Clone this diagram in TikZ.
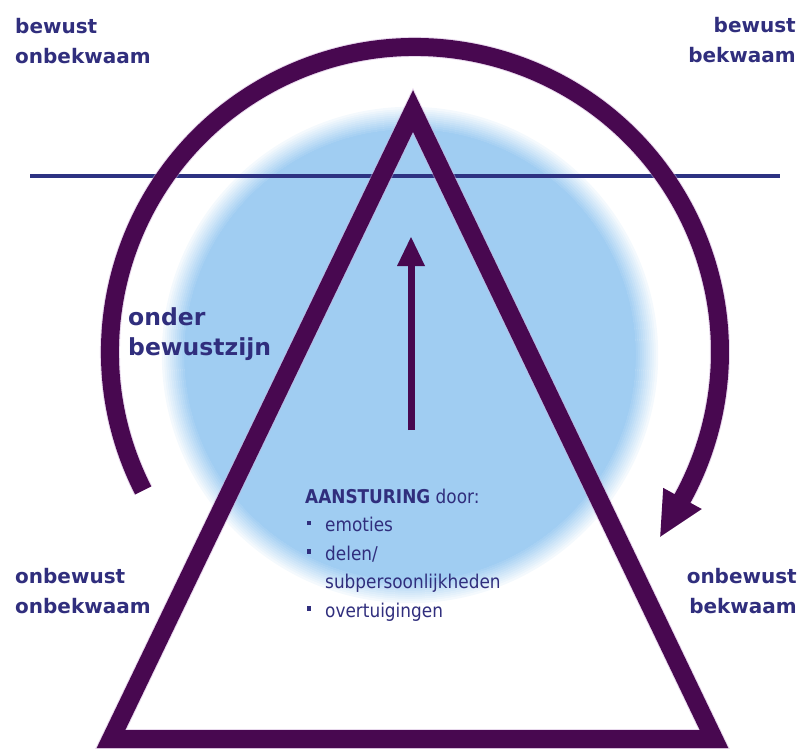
\documentclass[tikz,border=0pt]{standalone}
\usepackage{fontspec}
\usetikzlibrary{calc}
\newfontfamily\labfont{DejaVu Sans}
\newfontfamily\condfont{DejaVu Sans}[FakeStretch=0.89]
\definecolor{pur}{RGB}{72,8,80}
\definecolor{lb}{RGB}{160,205,242}
\definecolor{navy}{RGB}{45,50,130}
\definecolor{txt}{RGB}{48,46,125}
\definecolor{shad}{RGB}{205,170,215}
\newcommand\bul{\makebox[20pt][l]{\hspace{2pt}\rule[6.5pt]{4pt}{4.5pt}}}
\begin{document}
\begin{tikzpicture}[x=1pt,y=1pt,
  lab/.style={font=\labfont\bfseries\fontsize{20}{30}\selectfont, text=txt, inner sep=0pt},
  biglab/.style={font=\labfont\bfseries\fontsize{23.5}{30}\selectfont, text=txt, inner sep=0pt},
  block/.style={font=\condfont\fontsize{19}{28.5}\selectfont, text=txt, inner sep=0pt, align=left},
  thick purple/.style={draw=pur, line width=18pt},
  shadowline/.style={draw=shad, line width=20pt, opacity=0.45}]
\useasboundingbox (0,0) rectangle (803,-749);
% blue subconscious circle with soft edge
\coordinate (cc) at (410,-355);
\foreach \i in {0,...,11} {
  \pgfmathtruncatemacro\pct{100-8*\i}
  \draw[lb!\pct!white, line width=2.4pt] (cc) circle[radius=225+2*\i];
}
\fill[lb] (cc) circle[radius=225];
% horizon line
\coordinate (hl) at (30,-176);
\coordinate (hr) at (780,-176);
\draw[navy, line width=4pt] (hl) -- (hr);
% geometry
\coordinate (apex) at (413,-111);
\coordinate (bl) at (111,-739);
\coordinate (br) at (714,-739);
\coordinate (ac) at (415,-352);
% shadows
\begin{scope}[shift={(4,-3)}]
  \draw[shadowline, line join=miter] (bl) -- (apex) -- (br) -- cycle;
  \draw[shadowline] (ac) ++(207:305) arc[start angle=207, end angle=-29.5, radius=305];
\end{scope}
% triangle
\draw[thick purple, line join=miter] (bl) -- (apex) -- (br) -- cycle;
% circular arrow
\draw[thick purple] (ac) ++(207:305) arc[start angle=207, end angle=-29.5, radius=305];
\fill[pur] ($(ac)+(-28.7:283)$) -- ($(ac)+(-28.7:327)$) -- ($(ac)+(-37:307)$) -- cycle;
% vertical arrow
\coordinate (vb) at (411,-430);
\coordinate (vt) at (411,-237);
\draw[pur, line width=7pt] (vb) -- (411,-262);
\fill[pur] (vt) -- (397,-266) -- (425,-266) -- cycle;
% labels
\node[lab, anchor=north west, align=left] (bo) at (15,-17.8) {bewust\\onbekwaam};
\node[lab, anchor=north east, align=right] (bb) at (796,-16.8) {bewust\\bekwaam};
\node[lab, anchor=north west, align=left] (oo) at (15,-567.8) {onbewust\\onbekwaam};
\node[lab, anchor=north east, align=right] (ob) at (797,-567.8) {onbewust\\bekwaam};
\node[biglab, anchor=north west, align=left] (ond) at (128,-307.1) {onder\\bewustzijn};
\node[block, anchor=north west] (aan) at (305,-488.6) {\textbf{AANSTURING} door:\\
\bul emoties\\
\bul delen/\\
\hspace*{20pt}subpersoonlijkheden\\
\bul overtuigingen};
\end{tikzpicture}
\end{document}
